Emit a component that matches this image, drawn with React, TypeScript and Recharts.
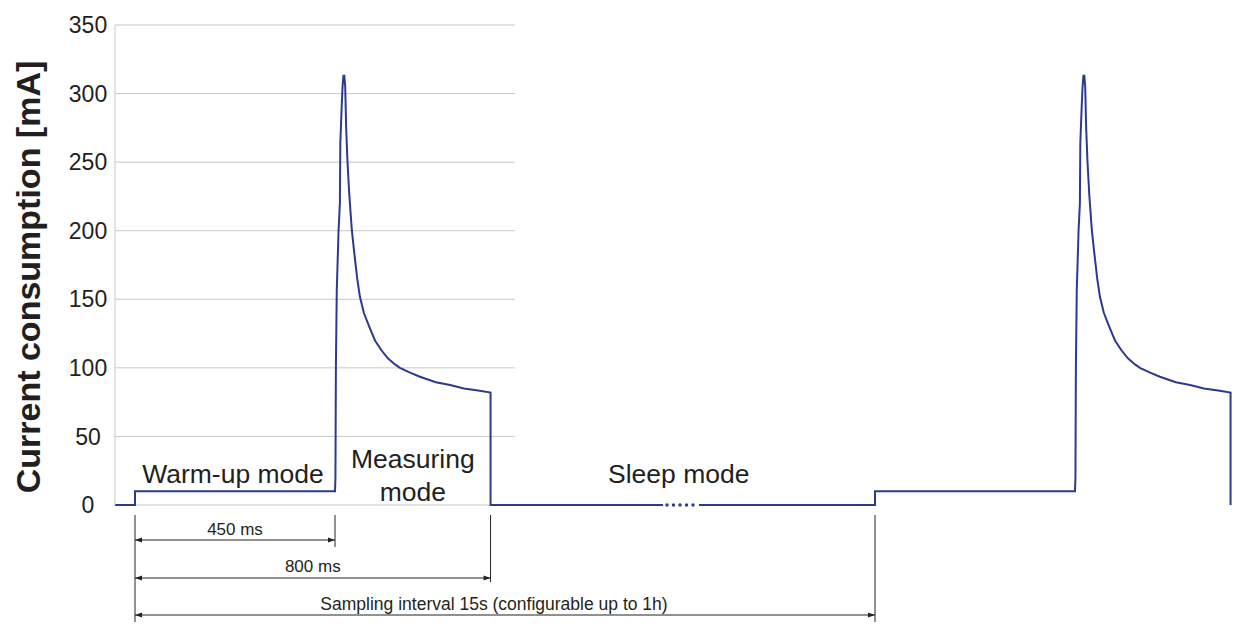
import { LineChart, Line, XAxis, YAxis, CartesianGrid, ReferenceLine, ReferenceArea } from "recharts";

// one measuring cycle, ms from warm-up start -> current in mA
const CYCLE_MS = [0, 0, 450, 451, 452, 454, 458, 461, 462, 465, 467, 469, 471, 473, 475, 478, 482, 488, 493, 500, 506, 515, 527, 540, 554, 569, 585, 596, 619, 641, 677, 709, 740, 772, 800, 800];
const CYCLE_MA = [0, 10, 10, 20, 100, 157, 200, 220, 264, 290, 305, 313, 313, 305, 276, 251, 227, 200, 185, 165, 152, 140, 130, 120, 113, 107, 102.5, 100, 96.5, 93.5, 89.5, 87.5, 85, 83.5, 82, 0];
const CYCLE_STARTS = [0, 1665];
const LEAD_IN_MS = -45;
const SLEEP_SOLID_END = 1188;
const SLEEP_SOLID_RESUME = 1269;
const SLEEP_DOTS_MS = [1197, 1256];

const Y_TICKS = [0, 50, 100, 150, 200, 250, 300, 350];

const PHASE_NAMES = [["Warm-up mode"], ["Measuring", "mode"], ["Sleep mode"]];
const PHASE_FROM = [0, 450, 800];
const PHASE_TO = [450, 800, 1665];

const SPAN_LABELS = ["450 ms", "800 ms", "Sampling interval 15s (configurable up to 1h)"];
const SPAN_TO = [450, 800, 1665];
const MARKER_MS = [0, 450, 800, 1665];

// layout
const W = 1238;
const H = 624;
const MARGIN = { top: 25, right: 3, bottom: 119, left: 0 };
const PLOT_H = H - MARGIN.top - MARGIN.bottom;
const Y_MAX = 350;
const X_DOMAIN: [number, number] = [-45, 2475];
const LINE = "#2b3a8f";
const INK = "#231f20";
const FONT = "'Liberation Sans', Arial, Helvetica, sans-serif";

// pixels below the zero line -> value units
const below = (px: number) => (-px * Y_MAX) / PLOT_H;

const SPAN_DROP = [35, 73, 110];
const SPAN_LABEL_GAP = [5, 6, 5];
const SPAN_LABEL_DX = [0, 0, -11];
const MARKER_TOP = 10;
const MARKER_BOTTOM = [117, 42, 77, 117];
const PHASE_BASELINES = [[22], [37, 4], [22]];
const PHASE_DX = [-2, 0, -4];

function buildRows() {
  const rows: { t: number; cur?: number; dots?: number }[] = [{ t: LEAD_IN_MS, cur: 0 }];
  CYCLE_STARTS.forEach((start, i) => {
    CYCLE_MS.forEach((ms, j) => rows.push({ t: start + ms, cur: CYCLE_MA[j] }));
    if (i === 0) {
      rows.push({ t: SLEEP_SOLID_END, cur: 0 });
      rows.push({ t: SLEEP_DOTS_MS[0], dots: 0 });
      rows.push({ t: SLEEP_DOTS_MS[1], dots: 0 });
      rows.push({ t: SLEEP_SOLID_RESUME, cur: 0 });
    }
  });
  return rows;
}

function ArrowShape(props: any) {
  const { x1, y1, x2, y2 } = props;
  const a = 7;
  const h = 2.5;
  return (
    <g>
      <line x1={x1} y1={y1} x2={x2} y2={y2} stroke="#222" strokeWidth={1} />
      <polygon points={`${x1},${y1} ${x1 + a},${y1 - h} ${x1 + a},${y1 + h}`} fill="#222" />
      <polygon points={`${x2},${y2} ${x2 - a},${y2 - h} ${x2 - a},${y2 + h}`} fill="#222" />
    </g>
  );
}

function PhaseLabel(lines: string[], offsets: number[], dx: number) {
  return (props: any) => {
    const vb = props.viewBox || {};
    const cx = vb.x + vb.width / 2 + dx;
    const bottom = vb.y + vb.height;
    return (
      <text textAnchor="middle" fontFamily={FONT} fontSize={26.5} fill={INK}>
        {lines.map((l, i) => (
          <tspan key={l} x={cx} y={bottom - offsets[i]}>
            {l}
          </tspan>
        ))}
      </text>
    );
  };
}

function YTitle(props: any) {
  const vb = props.viewBox || {};
  const cx = 40;
  const cy = vb.y + vb.height / 2 + 12;
  return (
    <text
      x={cx}
      y={cy}
      transform={`rotate(-90, ${cx}, ${cy})`}
      textAnchor="middle"
      fontFamily={FONT}
      fontWeight="bold"
      fontSize={34}
      fill={INK}
    >
      Current consumption [mA]
    </text>
  );
}

function YTick(props: any) {
  const { x, y, payload } = props;
  return (
    <text x={x - 27} y={y} dy="0.355em" textAnchor="middle" fontFamily={FONT} fontSize={23} fill={INK}>
      {payload.value}
    </text>
  );
}

export default function App() {
  const rows = buildRows();
  return (
    <div style={{ position: "absolute", left: 0, top: 0, width: W, height: H, background: "#fff" }}>
      <LineChart width={W} height={H} data={rows} margin={MARGIN}>
        <CartesianGrid vertical={false} stroke="#c8c8c8" x={115} width={400} />
        <XAxis type="number" dataKey="t" domain={X_DOMAIN} allowDataOverflow hide />
        <YAxis
          type="number"
          domain={[0, Y_MAX]}
          ticks={Y_TICKS}
          width={115}
          tickLine={false}
          tickSize={0}
          tickMargin={0}
          axisLine={{ stroke: "#c8c8c8" }}
          tick={YTick}
          label={YTitle}
        />
        {PHASE_NAMES.map((lines, i) => (
          <ReferenceArea
            key={lines.join(" ")}
            x1={PHASE_FROM[i]}
            x2={PHASE_TO[i]}
            y1={0}
            y2={Y_MAX}
            fill="none"
            fillOpacity={0}
            stroke="none"
            label={PhaseLabel(lines, PHASE_BASELINES[i], PHASE_DX[i])}
          />
        ))}
        {MARKER_MS.map((ms, i) => (
          <ReferenceLine
            key={`m${ms}`}
            segment={[
              { x: ms, y: below(MARKER_TOP) },
              { x: ms, y: below(MARKER_BOTTOM[i]) },
            ]}
            stroke="#222"
            strokeWidth={1}
            ifOverflow="visible"
          />
        ))}
        {SPAN_LABELS.map((label, i) => (
          <ReferenceLine
            key={label}
            segment={[
              { x: 0, y: below(SPAN_DROP[i]) },
              { x: SPAN_TO[i], y: below(SPAN_DROP[i]) },
            ]}
            ifOverflow="visible"
            shape={ArrowShape}
            label={{
              value: label,
              position: "top",
              offset: SPAN_LABEL_GAP[i],
              dx: SPAN_LABEL_DX[i],
              fill: INK,
              fontSize: i === 2 ? 17.5 : 17,
              fontFamily: FONT,
            }}
          />
        ))}
        <Line
          dataKey="cur"
          type="linear"
          stroke={LINE}
          strokeWidth={2}
          dot={false}
          activeDot={false}
          isAnimationActive={false}
        />
        <Line
          dataKey="dots"
          type="linear"
          stroke={LINE}
          strokeWidth={3.4}
          strokeLinecap="round"
          strokeDasharray="0 6.5"
          connectNulls
          dot={false}
          activeDot={false}
          isAnimationActive={false}
        />
      </LineChart>
    </div>
  );
}
